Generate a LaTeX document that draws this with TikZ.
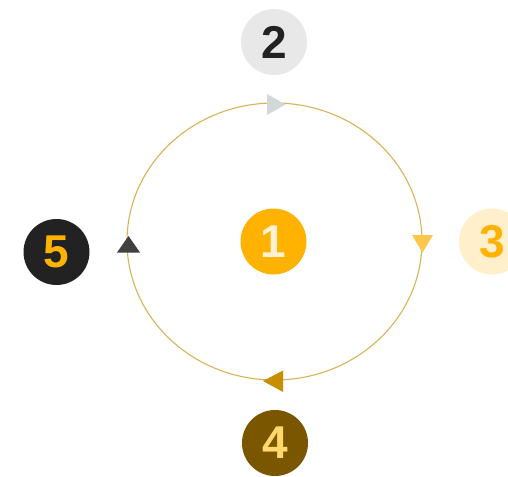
\documentclass[tikz,border=0pt]{standalone}
\usepackage{fontspec}
\setmainfont{Liberation Sans}
\definecolor{ringline}{HTML}{D8B458}
\definecolor{amber}{HTML}{FFB300}
\definecolor{cream}{HTML}{FFF1D2}
\definecolor{paleamber}{HTML}{FFEFCB}
\definecolor{lightgrey}{HTML}{E8E8E8}
\definecolor{charcoal}{HTML}{222222}
\definecolor{bronze}{HTML}{7A5600}
\definecolor{butter}{HTML}{FFD86A}
\definecolor{tipgrey}{HTML}{D3D7D7}
\definecolor{tipamber}{HTML}{FFC64A}
\definecolor{tipbronze}{HTML}{C68E00}
\definecolor{tipdark}{HTML}{404040}
\tikzset{
  badge/.style={circle, minimum size=66pt, inner sep=0pt,
    font=\fontsize{46}{46}\selectfont\bfseries},
  ring/.style={draw=ringline, line width=1.1pt},
}
\begin{document}
\begin{tikzpicture}[x=1pt, y=-1pt]
\useasboundingbox[fill=white] (0,0) rectangle (508,476);
% cycle ring
\draw[ring] (274.5,241.5) ellipse [x radius=147.5, y radius=138.5];
% direction markers on the ring
\fill[tipgrey]   (267,94) -- (267,115) -- (285.5,104.5) -- cycle;
\fill[tipamber]  (412,235) -- (433,235) -- (422.5,252.5) -- cycle;
\fill[tipbronze] (283,370.5) -- (283,392) -- (263,381) -- cycle;
\fill[tipdark]   (117,252.5) -- (140,252.5) -- (128.5,236) -- cycle;
% numbered badges
\node[badge, fill=amber, text=cream]         (n1) at (273.5,241.5) {1};
\node[badge, fill=lightgrey, text=charcoal]  (n2) at (274,42)      {2};
\node[badge, fill=paleamber, text=amber]     (n3) at (492,241.5)   {3};
\node[badge, fill=bronze, text=butter]       (n4) at (275,443)     {4};
\node[badge, fill=charcoal, text=amber]      (n5) at (56.5,252)    {5};
\end{tikzpicture}
\end{document}
